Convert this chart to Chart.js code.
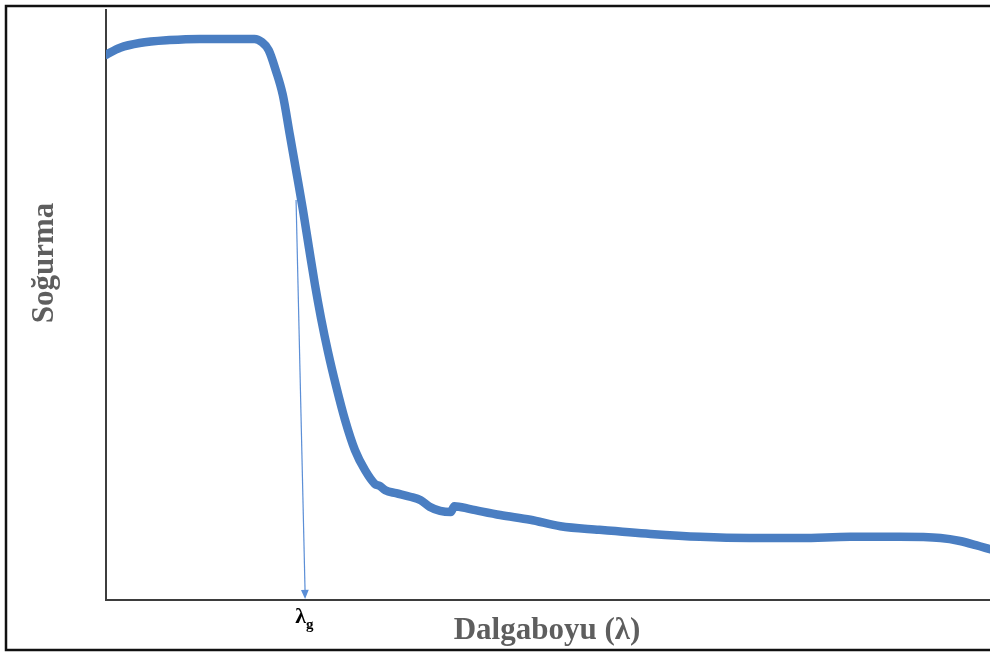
<!DOCTYPE html>
<html>
<head>
<meta charset="utf-8">
<script src="https://cdn.jsdelivr.net/npm/chart.js@4"></script>
<style>
  html, body { margin: 0; padding: 0; background: #fff; }
  #wrap { width: 990px; height: 653px; position: relative; }
</style>
</head>
<body>
<div id="wrap"><canvas id="absChart"></canvas></div>
<script>
// wavelength (nm) and absorbance
const wavelength = [300, 308, 319, 336, 353, 370, 384, 388, 392, 396, 400, 404, 408, 411.4, 414.8, 418.2, 421.6, 425.6, 430.1, 435.2, 440.8, 446.5, 452, 455, 458, 464, 472, 478, 483, 489, 495, 497, 506, 523, 540, 557, 579, 608, 636, 664, 693, 721, 749, 772, 783, 792, 800];
const absorbance = [0.924, 0.936, 0.944, 0.949, 0.951, 0.951, 0.951, 0.946, 0.932, 0.898, 0.856, 0.788, 0.720, 0.661, 0.597, 0.534, 0.478, 0.420, 0.363, 0.305, 0.254, 0.220, 0.197, 0.193, 0.186, 0.181, 0.175, 0.169, 0.158, 0.151, 0.149, 0.159, 0.154, 0.144, 0.136, 0.125, 0.119, 0.112, 0.107, 0.105, 0.105, 0.107, 0.107, 0.105, 0.100, 0.093, 0.086];

// band gap arrow: from the curve down to the axis
const arrowX = [407.5, 412.6];
const arrowY = [0.678, 0];

const xTitle = "Dalgaboyu (λ)";
const yTitle = "Soğurma";

const ctx = document.getElementById("absChart");

const extras = {
  id: "extras",
  beforeDraw(chart) {
    const c = chart.ctx;
    c.save();
    c.fillStyle = "#fff";
    c.fillRect(0, 0, chart.width, chart.height);
    c.restore();
  },
  afterDatasetsDraw(chart) {
    const c = chart.ctx;
    const xs = chart.scales.x;
    const ys = chart.scales.y;
    const x1 = xs.getPixelForValue(arrowX[0]);
    const y1 = ys.getPixelForValue(arrowY[0]);
    const x2 = xs.getPixelForValue(arrowX[1]);
    const y2 = ys.getPixelForValue(arrowY[1]) - 1;

    c.save();
    c.strokeStyle = "#5b8ed6";
    c.fillStyle = "#5b8ed6";
    c.lineWidth = 1.2;
    c.beginPath();
    c.moveTo(x1, y1);
    c.lineTo(x2, y2 - 7);
    c.stroke();
    const ang = Math.atan2(y2 - y1, x2 - x1);
    c.beginPath();
    c.moveTo(x2, y2);
    c.lineTo(x2 - 10 * Math.cos(ang - 0.4), y2 - 10 * Math.sin(ang - 0.4));
    c.lineTo(x2 - 10 * Math.cos(ang + 0.4), y2 - 10 * Math.sin(ang + 0.4));
    c.closePath();
    c.fill();

    // lambda_g label
    c.fillStyle = "#000";
    c.textBaseline = "alphabetic";
    c.font = "bold 22px 'Liberation Serif'";
    c.textAlign = "right";
    c.fillText("λ", x2 + 1, 623);
    c.font = "bold 15px 'Liberation Serif'";
    c.textAlign = "left";
    c.fillText("g", x2 + 1, 629);

    // axis titles
    c.fillStyle = "#5e5e5e";
    c.font = "bold 31px 'Liberation Serif'";
    c.textAlign = "center";
    c.fillText(xTitle, 547, 639);
    c.translate(53, 263);
    c.rotate(-Math.PI / 2);
    c.fillText(yTitle, 0, 0);
    c.restore();

    // outer frame
    c.save();
    c.strokeStyle = "#111";
    c.lineWidth = 2.5;
    c.strokeRect(6, 6, 1000, 644);
    c.restore();
  },
};

new Chart(ctx, {
  type: "line",
  data: {
    datasets: [
      {
        data: wavelength.map((w, i) => ({ x: w, y: absorbance[i] })),
        borderColor: "#4a7ec2",
        borderWidth: 8.5,
        pointRadius: 0,
        cubicInterpolationMode: "monotone",
        borderCapStyle: "round",
        borderJoinStyle: "round",
        fill: false,
      },
    ],
  },
  options: {
    responsive: true,
    maintainAspectRatio: false,
    animation: false,
    layout: {
      padding: { left: 98, right: 0, top: 10, bottom: 45 },
    },
    scales: {
      x: {
        type: "linear",
        min: 300,
        max: 800,
        grid: { display: false },
        ticks: { display: false },
        border: { display: true, color: "#3d3d3d", width: 2 },
      },
      y: {
        min: 0,
        max: 1,
        grid: { display: false },
        ticks: { display: false },
        border: { display: true, color: "#3d3d3d", width: 2 },
      },
    },
    plugins: {
      legend: { display: false },
      tooltip: { enabled: false },
    },
  },
  plugins: [extras],
});
</script>
</body>
</html>
